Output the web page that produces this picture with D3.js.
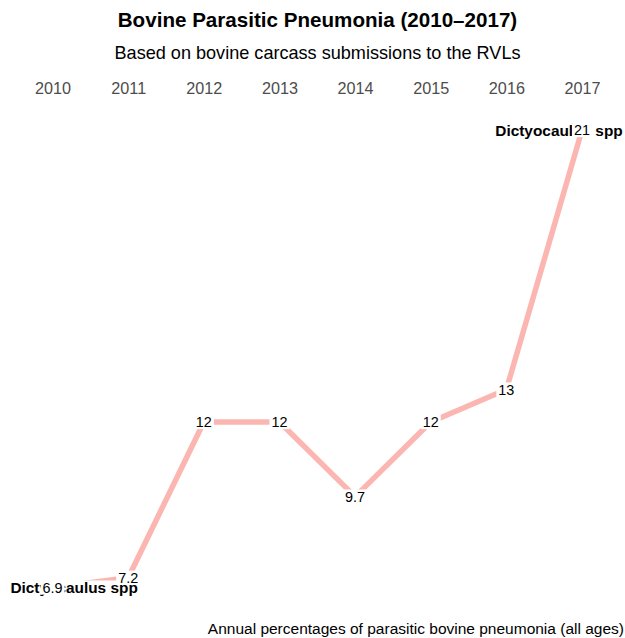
<!DOCTYPE html>
<html>
<head>
<meta charset="utf-8">
<script src="https://cdn.jsdelivr.net/npm/d3@7"></script>
<style>
  html, body { margin: 0; padding: 0; background: #fff; }
  svg { display: block; font-family: "Liberation Sans", Arial, sans-serif; }
</style>
</head>
<body>
<svg id="chart" width="625" height="638"></svg>
<script>
const years = ["2010", "2011", "2012", "2013", "2014", "2015", "2016", "2017"];
const values = [6.9, 7.2, 12, 12, 9.7, 12, 13, 21];
const valueLabels = ["6.9", "7.2", "12", "12", "9.7", "12", "13", "21"];
const seriesName = "Dictyocaulus spp";
const title = "Bovine Parasitic Pneumonia (2010\u20132017)";
const subtitle = "Based on bovine carcass submissions to the RVLs";
const caption = "Annual percentages of parasitic bovine pneumonia (all ages)";

const svg = d3.select("#chart");

const x = d3.scalePoint().domain(years).range([52.6, 582]);
const y = d3.scaleLinear().domain([6.9, 21]).range([587.5, 130]);

// Titles
svg.append("text").attr("x", 317.5).attr("y", 27).attr("text-anchor", "middle")
  .style("font-size", "20.6px").style("font-weight", "bold").attr("fill", "#000").text(title);
svg.append("text").attr("x", 317.5).attr("y", 59).attr("text-anchor", "middle")
  .style("font-size", "18.1px").attr("fill", "#000").text(subtitle);

// Top axis (year labels)
const axis = d3.axisTop(x).tickSize(0).tickPadding(0);
const ag = svg.append("g").attr("transform", "translate(0,88)").call(axis);
ag.select(".domain").remove();
ag.selectAll("text").style("font-size", "16.2px").attr("fill", "#4d4d4d")
  .attr("font-family", "Liberation Sans, Arial, sans-serif").attr("dy", "0.36em");

// Line
const data = years.map((yr, i) => ({ year: yr, value: values[i], label: valueLabels[i] }));
const line = d3.line().x(d => x(d.year)).y(d => y(d.value));
svg.append("path").datum(data).attr("d", line)
  .attr("fill", "none").attr("stroke", "rgb(252,182,177)").attr("stroke-width", 5.5)
  .attr("stroke-linejoin", "round");

function boxedLabel(g, cx, cy, txt, size, weight, padX, padTop, padBot) {
  const grp = g.append("g");
  const t = grp.append("text").attr("x", cx).attr("y", cy + size * 0.716 / 2)
    .attr("text-anchor", "middle").style("font-size", size + "px")
    .style("font-weight", weight).attr("fill", "#000").text(txt);
  const bb = t.node().getBBox();
  const capTop = cy - size * 0.716 / 2;
  const base = cy + size * 0.716 / 2;
  grp.insert("rect", "text").attr("x", bb.x - padX).attr("width", bb.width + 2 * padX)
    .attr("y", capTop - padTop).attr("height", base - capTop + padTop + padBot)
    .attr("fill", "#fff");
}

// Series labels (first and last)
const sg = svg.append("g");
boxedLabel(sg, x(years[0]) + 21.5, y(values[0]), seriesName, 15.4, "bold", 1.5, 1.5, 1.5);
boxedLabel(sg, x(years[years.length - 1]) - 23, y(values[values.length - 1]), seriesName, 15.4, "bold", 1.5, 1.5, 1.5);

// Value labels
const vg = svg.append("g");
data.forEach(d => boxedLabel(vg, x(d.year), y(d.value), d.label, 14.4, "normal", 2, 2, 2));

// Caption
svg.append("text").attr("x", 624).attr("y", 634).attr("text-anchor", "end")
  .style("font-size", "15.5px").attr("fill", "#000").text(caption);
</script>
</body>
</html>
